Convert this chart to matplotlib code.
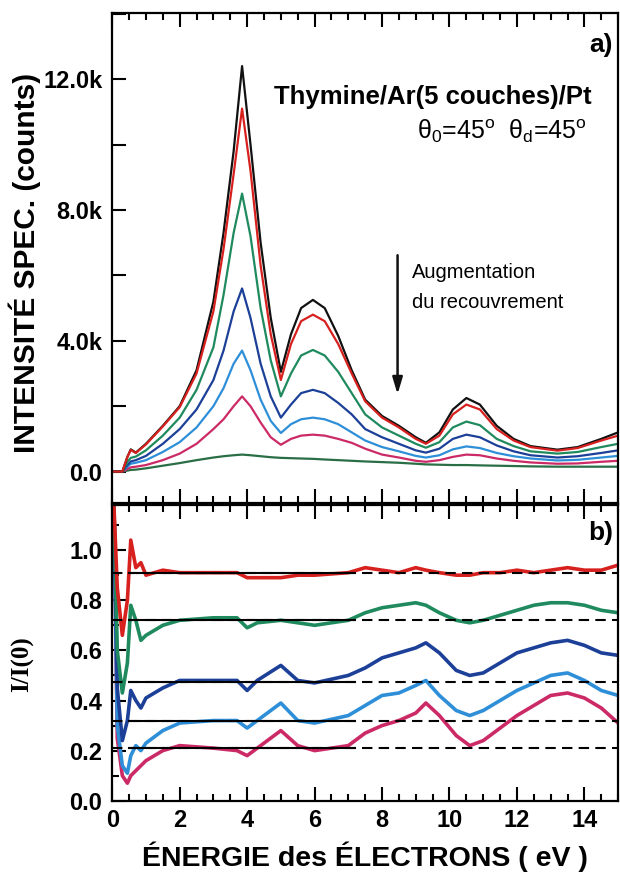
import matplotlib
matplotlib.use('Agg')
import matplotlib.pyplot as plt
from matplotlib.ticker import MultipleLocator, FixedLocator, FixedFormatter

plt.rcParams['font.family'] = ['Liberation Sans', 'DejaVu Sans']
plt.rcParams['mathtext.fontset'] = 'custom'
plt.rcParams['mathtext.rm'] = 'Liberation Sans'
plt.rcParams['mathtext.it'] = 'Liberation Sans:italic'

# ---------------- data: panel a) spectra (thousands of counts) ----------------
energy_a = [0.0, 0.3, 0.45, 0.55, 0.7, 1.0, 1.5, 2.0, 2.5, 3.0, 3.3, 3.6, 3.85, 4.1,
            4.4, 4.7, 5.0, 5.3, 5.6, 5.95, 6.3, 6.7, 7.1, 7.5, 8.0, 8.5, 9.0, 9.3,
            9.7, 10.1, 10.5, 10.9, 11.4, 11.9, 12.4, 13.2, 13.8, 14.5, 15.0]
spec_black = [0, 0, 0.45, 0.68, 0.58, 0.85, 1.4, 2.0, 3.1, 5.2, 7.3, 9.8, 12.4, 10.0,
              7.0, 4.7, 3.05, 4.2, 5.0, 5.25, 5.0, 4.15, 3.1, 2.2, 1.7, 1.4, 1.05, 0.88,
              1.2, 1.9, 2.25, 2.05, 1.4, 1.0, 0.78, 0.67, 0.75, 1.0, 1.2]
spec_red = [0, 0, 0.45, 0.66, 0.57, 0.83, 1.38, 1.97, 3.0, 4.9, 6.8, 9.1, 11.1, 9.2,
            6.3, 4.2, 2.8, 3.9, 4.6, 4.8, 4.6, 3.9, 3.0, 2.15, 1.65, 1.35, 1.0, 0.85,
            1.1, 1.75, 2.05, 1.9, 1.3, 0.95, 0.75, 0.64, 0.72, 0.95, 1.1]
spec_green = [0, 0, 0.3, 0.42, 0.46, 0.65, 1.1, 1.65, 2.5, 3.8, 5.4, 7.3, 8.5, 7.2,
              5.0, 3.4, 2.3, 3.0, 3.55, 3.72, 3.55, 3.05, 2.4, 1.75, 1.35, 1.1, 0.85, 0.73,
              0.9, 1.35, 1.53, 1.42, 1.0, 0.78, 0.62, 0.55, 0.6, 0.75, 0.85]
spec_blue = [0, 0, 0.2, 0.31, 0.35, 0.48, 0.85, 1.3, 1.9, 2.8, 3.7, 4.9, 5.6, 4.7,
             3.3, 2.3, 1.65, 2.05, 2.4, 2.5, 2.4, 2.1, 1.75, 1.3, 1.05, 0.85, 0.65, 0.58,
             0.7, 1.0, 1.13, 1.05, 0.8, 0.62, 0.5, 0.43, 0.47, 0.57, 0.65]
spec_lblue = [0, 0, 0.15, 0.24, 0.27, 0.35, 0.6, 0.9, 1.35, 2.0, 2.55, 3.3, 3.7, 3.1,
              2.2, 1.55, 1.18, 1.45, 1.6, 1.65, 1.6, 1.45, 1.2, 0.95, 0.75, 0.62, 0.48, 0.43,
              0.5, 0.68, 0.77, 0.72, 0.57, 0.47, 0.4, 0.34, 0.36, 0.43, 0.48]
spec_magenta = [0, 0, 0.08, 0.13, 0.15, 0.2, 0.35, 0.55, 0.85, 1.3, 1.6, 2.0, 2.3, 2.0,
                1.5, 1.05, 0.82, 1.0, 1.1, 1.13, 1.1, 1.0, 0.88, 0.7, 0.52, 0.43, 0.33, 0.3,
                0.35, 0.45, 0.52, 0.5, 0.4, 0.33, 0.28, 0.24, 0.25, 0.3, 0.33]
spec_dgreen = [0, 0, 0.03, 0.05, 0.06, 0.1, 0.18, 0.26, 0.35, 0.43, 0.47, 0.5, 0.52, 0.5,
               0.47, 0.44, 0.42, 0.41, 0.4, 0.39, 0.37, 0.35, 0.33, 0.31, 0.29, 0.27, 0.24, 0.22,
               0.21, 0.2, 0.2, 0.19, 0.18, 0.17, 0.16, 0.15, 0.15, 0.15, 0.15]

# ---------------- data: panel b) ratios I/I(0) ----------------
energy_b = [0.05, 0.15, 0.3, 0.45, 0.55, 0.7, 0.85, 1.0, 1.5, 2.0, 3.0, 3.7, 4.0, 4.3,
            5.0, 5.5, 6.0, 7.0, 7.5, 8.0, 8.5, 9.0, 9.3, 9.7, 10.2, 10.6, 11.0, 11.5,
            12.0, 12.5, 13.0, 13.5, 14.0, 14.5, 15.0]
ratio_red = [1.18, 0.85, 0.66, 0.80, 1.04, 0.93, 0.95, 0.90, 0.92, 0.91, 0.91, 0.91, 0.89, 0.89,
             0.89, 0.90, 0.90, 0.91, 0.93, 0.92, 0.91, 0.93, 0.92, 0.91, 0.90, 0.90, 0.91, 0.91,
             0.92, 0.91, 0.92, 0.93, 0.92, 0.92, 0.94]
ratio_green = [1.18, 0.60, 0.43, 0.55, 0.78, 0.72, 0.64, 0.66, 0.70, 0.72, 0.73, 0.73, 0.69, 0.71,
               0.72, 0.71, 0.70, 0.72, 0.75, 0.77, 0.78, 0.79, 0.78, 0.75, 0.72, 0.71, 0.72, 0.74,
               0.76, 0.78, 0.79, 0.79, 0.78, 0.76, 0.75]
ratio_blue = [1.18, 0.45, 0.24, 0.32, 0.44, 0.40, 0.37, 0.41, 0.45, 0.48, 0.48, 0.48, 0.44, 0.48,
              0.54, 0.48, 0.47, 0.50, 0.53, 0.57, 0.59, 0.61, 0.63, 0.59, 0.52, 0.50, 0.51, 0.55,
              0.59, 0.61, 0.63, 0.64, 0.62, 0.59, 0.58]
ratio_lblue = [1.18, 0.30, 0.14, 0.11, 0.18, 0.22, 0.20, 0.23, 0.28, 0.31, 0.32, 0.32, 0.29, 0.32,
               0.39, 0.32, 0.31, 0.34, 0.38, 0.42, 0.43, 0.46, 0.48, 0.42, 0.36, 0.34, 0.36, 0.40,
               0.44, 0.47, 0.50, 0.51, 0.48, 0.44, 0.42]
ratio_magenta = [1.18, 0.25, 0.10, 0.07, 0.10, 0.12, 0.14, 0.16, 0.20, 0.22, 0.21, 0.20, 0.18, 0.21,
                 0.28, 0.22, 0.20, 0.22, 0.27, 0.30, 0.32, 0.35, 0.39, 0.34, 0.26, 0.22, 0.24, 0.29,
                 0.34, 0.38, 0.42, 0.43, 0.41, 0.37, 0.31]
ref_levels = [0.91, 0.72, 0.475, 0.32, 0.21]

x_ticks = [0, 2, 4, 6, 8, 10, 12, 14]
ya_ticks = [0, 4, 8, 12]
ya_labels = ['0.0', '4.0k', '8.0k', '12.0k']
yb_ticks = [0.0, 0.2, 0.4, 0.6, 0.8, 1.0]
yb_labels = ['0.0', '0.2', '0.4', '0.6', '0.8', '1.0']

C_BLACK = '#111111'
C_RED = '#d7211f'
C_GREEN = '#1f8a5e'
C_BLUE = '#1c3f98'
C_LBLUE = '#2e8fd8'
C_MAG = '#cc2a66'
C_DGREEN = '#2a6e45'

fig = plt.figure(figsize=(6.2, 8.74), dpi=100)
ax1 = fig.add_axes([0.181, 0.4245, 0.816, 0.5605])
ax2 = fig.add_axes([0.181, 0.0838, 0.816, 0.3384])

# ---- panel a ----
for y, c in [(spec_dgreen, C_DGREEN), (spec_magenta, C_MAG), (spec_lblue, C_LBLUE),
             (spec_blue, C_BLUE), (spec_green, C_GREEN), (spec_black, C_BLACK), (spec_red, C_RED)]:
    ax1.plot(energy_a, y, color=c, lw=1.6)

ax1.set_xlim(0, 15)
ax1.set_ylim(-0.96, 14.02)
ax1.yaxis.set_major_locator(FixedLocator(ya_ticks))
ax1.yaxis.set_major_formatter(FixedFormatter(ya_labels))
ax1.yaxis.set_minor_locator(MultipleLocator(2))
ax1.xaxis.set_major_locator(MultipleLocator(2))
ax1.xaxis.set_minor_locator(MultipleLocator(0.5))
ax1.tick_params(axis='x', which='both', direction='in', top=True, bottom=True, labelbottom=False)
ax1.tick_params(axis='y', which='both', direction='in', left=True, right=False)
ax1.tick_params(which='major', length=10, width=1.5)
ax1.tick_params(axis='y', which='minor', length=10, width=1.5)
ax1.tick_params(axis='x', which='minor', length=5, width=1.5)
ax1.tick_params(axis='y', labelsize=17, pad=7)
for lab in ax1.get_yticklabels():
    lab.set_fontweight('bold')

ax1.text(14.85, 13.05, 'a)', fontsize=19, fontweight='bold', ha='right', va='center')
ax1.text(4.8, 11.45, 'Thymine/Ar(5 couches)/Pt', fontsize=18.5, fontweight='bold', ha='left', va='center')
ax1.text(9.05, 10.4, r'θ$_{\rm 0}$=45$^{\rm o}$  θ$_{\rm d}$=45$^{\rm o}$', fontsize=18, ha='left', va='center')
ax1.annotate('', xy=(8.46, 2.28), xytext=(8.46, 6.7),
             arrowprops=dict(arrowstyle='-|>,head_length=1.0,head_width=0.3', color='#111111', lw=1.8))
ax1.text(8.9, 6.1, 'Augmentation', fontsize=14.5, ha='left', va='center')
ax1.text(8.9, 5.18, 'du recouvrement', fontsize=14.5, ha='left', va='center')

# ---- panel b ----
for y, c in [(ratio_magenta, C_MAG), (ratio_lblue, C_LBLUE), (ratio_blue, C_BLUE),
             (ratio_green, C_GREEN), (ratio_red, C_RED)]:
    ax2.plot(energy_b, y, color=c, lw=2.6)
for lvl in ref_levels:
    ax2.plot([0.5, 7.2], [lvl, lvl], color='black', lw=1.5)
    ax2.plot([0.0, 15.0], [lvl, lvl], color='black', lw=1.5, dashes=(5, 3))

ax2.set_xlim(0, 15)
ax2.set_ylim(0, 1.18)
ax2.yaxis.set_major_locator(FixedLocator(yb_ticks))
ax2.yaxis.set_major_formatter(FixedFormatter(yb_labels))
ax2.yaxis.set_minor_locator(MultipleLocator(0.1))
ax2.xaxis.set_major_locator(FixedLocator(x_ticks))
ax2.xaxis.set_minor_locator(MultipleLocator(0.5))
ax2.tick_params(axis='x', which='both', direction='in', top=True, bottom=True)
ax2.tick_params(axis='y', which='both', direction='in', left=True, right=False)
ax2.tick_params(which='major', length=10, width=1.5)
ax2.tick_params(which='minor', length=5, width=1.5)
ax2.tick_params(axis='y', labelsize=17, pad=7)
ax2.tick_params(axis='x', labelsize=17, pad=6)
for lab in ax2.get_yticklabels() + ax2.get_xticklabels():
    lab.set_fontweight('bold')
ax2.text(14.85, 1.07, 'b)', fontsize=19, fontweight='bold', ha='right', va='center')

for ax in (ax1, ax2):
    for s in ax.spines.values():
        s.set_linewidth(1.6)

fig.text(0.040, 0.699, 'INTENSITÉ SPEC. (counts)', rotation=90, fontsize=21.5,
         fontweight='bold', ha='center', va='center')
fig.text(0.037, 0.240, 'I/I(0)', rotation=90, fontsize=18, fontweight='bold',
         family=['Liberation Serif', 'DejaVu Serif'], ha='center', va='center')
fig.text(0.589, 0.0195, 'ÉNERGIE des ÉLECTRONS ( eV )', fontsize=20.5, fontweight='bold',
         ha='center', va='center')

fig.savefig('out.png', dpi=100)
